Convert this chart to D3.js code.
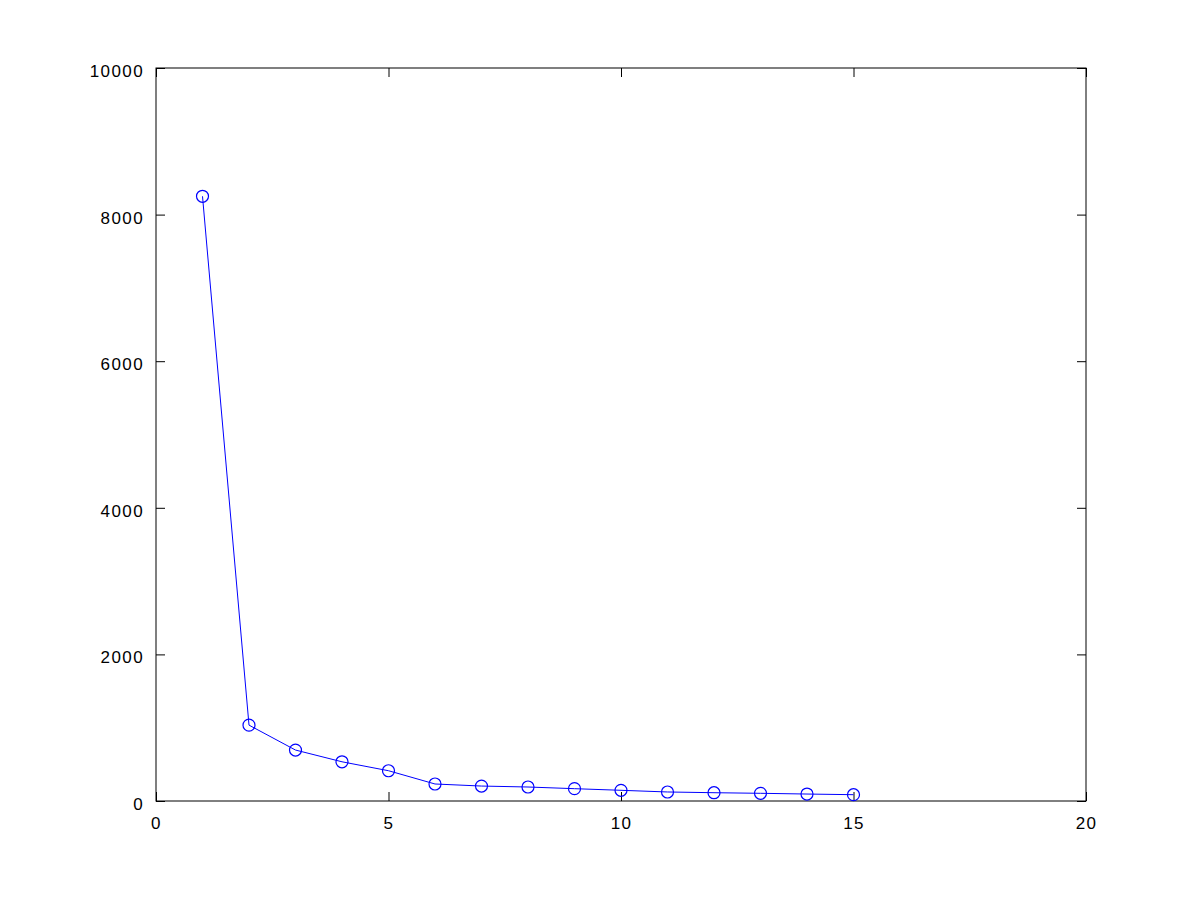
<!DOCTYPE html>
<html>
<head>
<meta charset="utf-8">
<script src="https://cdn.jsdelivr.net/npm/d3@7"></script>
<style>
  body { margin: 0; background: #fff; }
  svg text { font-family: "Liberation Sans", Arial, sans-serif; font-size: 17px; fill: #000; }
</style>
</head>
<body>
<div id="chart"></div>
<script>
const width = 1200;
const height = 902;

// Data
const xValues = [1, 2, 3, 4, 5, 6, 7, 8, 9, 10, 11, 12, 13, 14, 15];
const yValues = [8250, 1035, 695, 535, 413, 232, 204, 191, 168, 146, 123, 113, 105, 95, 86];
const xTicks = [0, 5, 10, 15, 20];
const yTicks = [0, 2000, 4000, 6000, 8000, 10000];

const margin = { left: 156, right: 114, top: 68, bottom: 101 };

const svg = d3.select("#chart")
    .append("svg")
    .attr("width", width)
    .attr("height", height);

const x = d3.scaleLinear().domain([0, 20]).range([margin.left, width - margin.right]);
const y = d3.scaleLinear().domain([0, 10000]).range([height - margin.bottom, margin.top]);

const tick = 9;

// Axes (ticks inward, mirrored on top/right)
svg.append("g")
    .attr("transform", `translate(0,${y(0)})`)
    .call(d3.axisBottom(x).tickValues(xTicks).tickSize(-tick).tickPadding(16).tickFormat(d3.format("d")))
    .call(g => g.select(".domain").remove());

svg.append("g")
    .attr("transform", `translate(0,${y(10000)})`)
    .call(d3.axisTop(x).tickValues(xTicks).tickSize(-tick).tickFormat(""))
    .call(g => g.select(".domain").remove());

svg.append("g")
    .attr("transform", `translate(${x(0)},0)`)
    .call(d3.axisLeft(y).tickValues(yTicks).tickSize(-tick).tickPadding(12).tickFormat(d3.format("d")))
    .call(g => g.select(".domain").remove())
    .call(g => g.selectAll(".tick text").attr("dy", "0.5em"));

svg.append("g")
    .attr("transform", `translate(${x(20)},0)`)
    .call(d3.axisRight(y).tickValues(yTicks).tickSize(-tick).tickFormat(""))
    .call(g => g.select(".domain").remove());

svg.selectAll(".tick line").attr("stroke", "#000").attr("stroke-width", 1);
svg.selectAll(".tick text")
    .style("font-size", "17px")
    .style("letter-spacing", "1.4px");

// Box
svg.append("rect")
    .attr("x", x(0))
    .attr("y", y(10000))
    .attr("width", x(20) - x(0))
    .attr("height", y(0) - y(10000))
    .attr("fill", "none")
    .attr("stroke", "#000")
    .attr("stroke-width", 1);

const data = xValues.map((d, i) => ({ x: d, y: yValues[i] }));

const line = d3.line()
    .x(d => x(d.x))
    .y(d => y(d.y));

svg.append("path")
    .datum(data)
    .attr("d", line)
    .attr("fill", "none")
    .attr("stroke", "#0000ff")
    .attr("stroke-width", 1);

svg.selectAll(".pt")
    .data(data)
    .enter().append("circle")
    .attr("class", "pt")
    .attr("cx", d => x(d.x))
    .attr("cy", d => y(d.y))
    .attr("r", 6)
    .attr("fill", "none")
    .attr("stroke", "#0000ff")
    .attr("stroke-width", 1.2);
</script>
</body>
</html>
